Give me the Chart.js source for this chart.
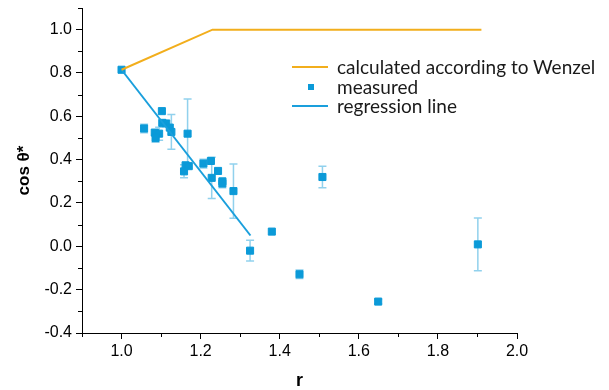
<!DOCTYPE html>
<html>
<head>
<meta charset="utf-8">
<script src="https://cdn.jsdelivr.net/npm/chart.js@4.4.0/dist/chart.umd.min.js"></script>
<style>
    html, body { margin: 0; padding: 0; background: #fff; }
    #wrap { position: relative; width: 609px; height: 390px; }
    #legend { position: absolute; left: 292px; top: 57px; font-family: Lato, sans-serif; font-size: 19px; color: #1a1a1a; }
    .row { height: 19.5px; line-height: 19.5px; position: relative; padding-left: 45px; white-space: nowrap; }
    .line { position: absolute; left: 0; top: 9px; width: 36px; height: 2px; }
    .box { position: absolute; left: 16px; top: 7px; width: 6px; height: 6px; background: #0b9ad8; }
</style>
</head>
<body>
<div id="wrap">
    <canvas id="chart" width="609" height="390"></canvas>
    <div id="legend">
        <div class="row"><span class="line" style="background:#f2ae1c"></span>calculated according to Wenzel</div>
        <div class="row"><span class="box"></span>measured</div>
        <div class="row"><span class="line" style="background:#1a9fdc"></span>regression line</div>
    </div>
</div>
<script>
// measured points
var rValues   = [1.000, 1.057, 1.084, 1.095, 1.086, 1.102, 1.103, 1.113, 1.122, 1.126, 1.167, 1.162, 1.170, 1.158, 1.207, 1.226, 1.244, 1.228, 1.255, 1.255, 1.283, 1.325, 1.380, 1.450, 1.508, 1.649, 1.901];
var cosValues = [0.815, 0.544, 0.525, 0.520, 0.500, 0.624, 0.570, 0.567, 0.548, 0.528, 0.520, 0.374, 0.370, 0.346, 0.382, 0.394, 0.348, 0.316, 0.300, 0.290, 0.255, -0.020, 0.068, -0.129, 0.320, -0.255, 0.009];
var cosErrors = [0, 0.02, 0, 0.03, 0.02, 0, 0, 0, 0, 0.08, 0.16, 0, 0, 0.03, 0.02, 0, 0, 0.095, 0, 0.02, 0.125, 0.048, 0, 0.02, 0.05, 0.01, 0.122];

// Wenzel curve and regression line
var wenzelR = [1.0, 1.23, 1.91];
var wenzelCos = [0.815, 1.0, 1.0];
var regR = [1.0, 1.326];
var regCos = [0.815, 0.05];

// axis ticks
var xTicks = [0.9, 1.0, 1.1, 1.2, 1.3, 1.4, 1.5, 1.6, 1.7, 1.8, 1.9, 2.0];
var xLabels = [1.0, 1.2, 1.4, 1.6, 1.8, 2.0];
var yTicks = [-0.4, -0.3, -0.2, -0.1, 0.0, 0.1, 0.2, 0.3, 0.4, 0.5, 0.6, 0.7, 0.8, 0.9, 1.0, 1.1];
var yLabels = [-0.4, -0.2, 0.0, 0.2, 0.4, 0.6, 0.8, 1.0];

function toPoints(xs, ys) {
    return xs.map(function(x, i) { return { x: x, y: ys[i] }; });
}

function isLabeled(list, v) {
    return list.some(function(l) { return Math.abs(l - v) < 1e-6; });
}

var errorBars = {
    id: 'errorBars',
    beforeDatasetsDraw: function(chart) {
        var ctx = chart.ctx;
        var xs = chart.scales.x, ys = chart.scales.y;
        ctx.save();
        ctx.strokeStyle = 'rgba(11,154,216,0.45)';
        ctx.lineWidth = 1.5;
        rValues.forEach(function(r, i) {
            var e = cosErrors[i];
            if (!e) return;
            var px = xs.getPixelForValue(r);
            var top = ys.getPixelForValue(cosValues[i] + e);
            var bot = ys.getPixelForValue(cosValues[i] - e);
            ctx.beginPath();
            ctx.moveTo(px, top); ctx.lineTo(px, bot);
            ctx.moveTo(px - 4, top); ctx.lineTo(px + 4, top);
            ctx.moveTo(px - 4, bot); ctx.lineTo(px + 4, bot);
            ctx.stroke();
        });
        ctx.restore();
    }
};

var minorTicks = {
    id: 'minorTicks',
    afterDraw: function(chart) {
        var ctx = chart.ctx;
        var xs = chart.scales.x, ys = chart.scales.y;
        ctx.save();
        ctx.strokeStyle = '#000';
        ctx.lineWidth = 1;
        ctx.beginPath();
        xTicks.forEach(function(v) {
            if (isLabeled(xLabels, v)) return;
            var px = Math.round(xs.getPixelForValue(v)) + 0.5;
            ctx.moveTo(px, ys.bottom); ctx.lineTo(px, ys.bottom + 4);
        });
        yTicks.forEach(function(v) {
            if (isLabeled(yLabels, v)) return;
            var py = Math.round(ys.getPixelForValue(v)) + 0.5;
            ctx.moveTo(xs.left, py); ctx.lineTo(xs.left - 4, py);
        });
        ctx.stroke();
        ctx.restore();
    }
};

new Chart(document.getElementById('chart'), {
    type: 'scatter',
    data: {
        datasets: [
            {
                label: 'calculated according to Wenzel',
                data: toPoints(wenzelR, wenzelCos),
                showLine: true,
                borderColor: '#f2ae1c',
                borderWidth: 2,
                pointRadius: 0
            },
            {
                label: 'regression line',
                data: toPoints(regR, regCos),
                showLine: true,
                borderColor: '#1a9fdc',
                borderWidth: 2,
                pointRadius: 0
            },
            {
                label: 'measured',
                data: toPoints(rValues, cosValues),
                pointStyle: 'rect',
                pointRadius: 5,
                borderWidth: 1,
                backgroundColor: '#0b9ad8',
                borderColor: '#0b9ad8'
            }
        ]
    },
    options: {
        responsive: false,
        animation: false,
        layout: { padding: { top: 8, right: 92, left: 0, bottom: 0 } },
        plugins: { legend: { display: false }, tooltip: { enabled: false } },
        scales: {
            x: {
                type: 'linear',
                min: 0.9,
                max: 2.0,
                afterBuildTicks: function(scale) { scale.ticks = xTicks.map(function(v) { return { value: v }; }); },
                afterFit: function(scale) { scale.height = 57; scale.paddingLeft = 0; scale.paddingRight = 0; },
                ticks: {
                    color: '#000',
                    font: { family: 'Liberation Sans', size: 16 },
                    padding: 3,
                    maxRotation: 0,
                    autoSkip: false,
                    callback: function(v) { return isLabeled(xLabels, v) ? v.toFixed(1) : ''; }
                },
                grid: {
                    drawOnChartArea: false,
                    tickLength: 6,
                    tickColor: function(c) { return c.tick && isLabeled(xLabels, c.tick.value) ? '#000' : 'rgba(0,0,0,0)'; }
                },
                border: { color: '#000', width: 1 },
                title: { display: true, text: 'r', color: '#000', font: { family: 'Liberation Sans', size: 18, weight: 'bold', lineHeight: 1.0 }, padding: { top: 0, bottom: 0 } }
            },
            y: {
                type: 'linear',
                min: -0.4,
                max: 1.1,
                afterBuildTicks: function(scale) { scale.ticks = yTicks.map(function(v) { return { value: v }; }); },
                afterFit: function(scale) { scale.width = 82; scale.paddingTop = 0; scale.paddingBottom = 0; },
                ticks: {
                    color: '#000',
                    font: { family: 'Liberation Sans', size: 16 },
                    padding: 4,
                    autoSkip: false,
                    callback: function(v) { return isLabeled(yLabels, v) ? v.toFixed(1) : ''; }
                },
                grid: {
                    drawOnChartArea: false,
                    tickLength: 6,
                    tickColor: function(c) { return c.tick && isLabeled(yLabels, c.tick.value) ? '#000' : 'rgba(0,0,0,0)'; }
                },
                border: { color: '#000', width: 1 },
                title: { display: true, text: 'cos θ*', color: '#000', font: { family: 'Liberation Sans', size: 17, weight: 'bold' }, padding: { top: 14, bottom: 0 } }
            }
        }
    },
    plugins: [errorBars, minorTicks]
});
</script>
</body>
</html>
